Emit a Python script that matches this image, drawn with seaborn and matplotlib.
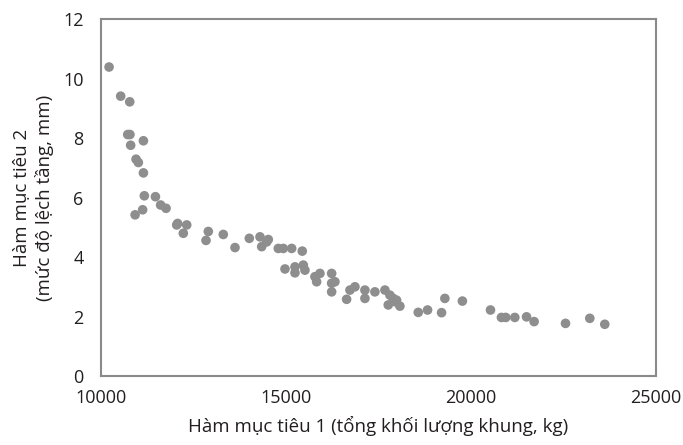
import numpy as np
import pandas as pd
import matplotlib
matplotlib.use("Agg")
import matplotlib.pyplot as plt
import seaborn as sns

# Pareto front values
mass_kg = [10216, 10530, 10775, 10720, 10780, 11145, 10800, 10946, 11008, 11145,
           11170, 11470, 11610, 11757, 10920, 11124, 12070, 12316, 12045, 12224,
           12900, 12838, 13305, 13622, 14009, 14298, 14344, 14479, 14522, 14793,
           14928, 15155, 15441, 14974, 15244, 15244, 15469, 15514, 15784, 15830,
           15919, 16236, 16236, 16325, 16236, 16641, 16731, 16866, 17136, 17136,
           17406, 17677, 17812, 17902, 17992, 17767, 18082, 17947, 18578, 18830,
           19209, 19298, 19772, 20532, 20828, 20945, 21190, 21507, 21712, 22561,
           23218, 23623]
drift_mm = [10.39, 9.41, 9.22, 8.12, 8.12, 7.91, 7.76, 7.29, 7.18, 6.83,
            6.06, 6.03, 5.75, 5.64, 5.42, 5.59, 5.13, 5.08, 5.08, 4.80,
            4.86, 4.56, 4.76, 4.32, 4.63, 4.68, 4.35, 4.51, 4.59, 4.29,
            4.29, 4.29, 4.20, 3.60, 3.67, 3.47, 3.73, 3.56, 3.34, 3.17,
            3.45, 3.45, 3.12, 3.17, 2.83, 2.58, 2.89, 3.00, 2.89, 2.61,
            2.83, 2.89, 2.72, 2.61, 2.55, 2.39, 2.35, 2.50, 2.14, 2.22,
            2.13, 2.61, 2.52, 2.22, 1.97, 1.97, 1.97, 1.99, 1.83, 1.77,
            1.94, 1.74]

x_ticks = [10000, 15000, 20000, 25000]
y_ticks = [0, 2, 4, 6, 8, 10, 12]

df = pd.DataFrame({"mass": mass_kg, "drift": drift_mm})

sns.set_style("white")
plt.rcParams["font.family"] = ["Open Sans", "DejaVu Sans"]

fig = plt.figure(figsize=(6.83, 4.45), dpi=100)
ax = fig.add_axes([0.148, 0.155, 0.812, 0.802])

sns.scatterplot(data=df, x="mass", y="drift", ax=ax, color="#8e8e8e",
                s=48, edgecolor="none", linewidth=0)

ax.set_xlim(10000, 25000)
ax.set_ylim(0, 12)
ax.set_xticks(x_ticks)
ax.set_yticks(y_ticks)
ax.tick_params(axis="both", direction="out", length=3.5, width=1.1,
               color="#666666", labelsize=13, labelcolor="#231f20")
ax.tick_params(axis="x", pad=6)
ax.tick_params(axis="y", pad=9)

for sp in ax.spines.values():
    sp.set_color("#8a8a8a")
    sp.set_linewidth(1.5)

ax.set_xlabel("Hàm mục tiêu 1 (tổng khối lượng khung, kg)", fontsize=13.5,
              color="#231f20", labelpad=6)
ax.set_ylabel("Hàm mục tiêu 2\n(mức độ lệch tầng, mm)", fontsize=13.5,
              color="#231f20", labelpad=7, linespacing=1.25)

fig.savefig("out.png", dpi=100)
